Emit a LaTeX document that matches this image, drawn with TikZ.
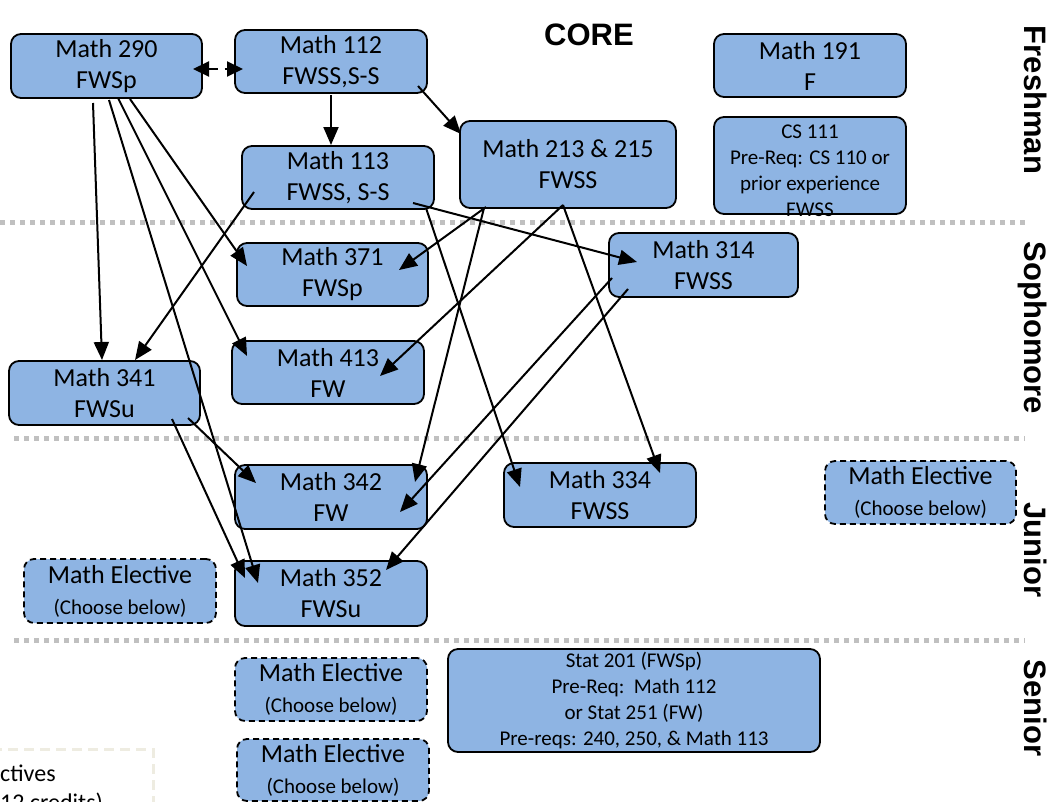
\documentclass[tikz,border=0pt]{standalone}
\usepackage{fontspec}
\setmainfont{Carlito}
\newfontfamily\headfont{Liberation Sans}
\usepackage{tikz}
\usetikzlibrary{arrows.meta,calc}
\definecolor{boxblue}{HTML}{8EB4E3}
\definecolor{sepgray}{HTML}{C0C0C0}
\definecolor{legendline}{HTML}{EEECE1}

\begin{document}
\begin{tikzpicture}[x=1pt, y=-1pt]
    % Estilos de los bloques
    \tikzset{
        course/.style={
            draw, line width=1.8pt, rounded corners=10pt, fill=boxblue, inner sep=0pt,
            minimum width=192, minimum height=64, align=center, font=\fontsize{26}{31}\selectfont
        },
        elective/.style={course, dash pattern=on 6pt off 4pt},
        sepline/.style={sepgray, line width=5pt, dash pattern=on 5pt off 5pt},
        yearlabel/.style={rotate=-90, anchor=base, font=\headfont\bfseries\fontsize{31}{36}\selectfont},
        req/.style={line width=2pt, -{Triangle[length=18pt,width=15pt]}}
    }
    \useasboundingbox (0,0) rectangle (1048,801);

    % Separadores entre cursos
    \draw[sepline] (0,222) -- (1025,222);
    \draw[sepline] (14,438) -- (1025,438);
    \draw[sepline] (14,640) -- (1025,640);

    \node[font=\headfont\bfseries\fontsize{31}{36}\selectfont] (core) at (589,35) {CORE};
    \node[yearlabel] (fresh) at (1024,100) {Freshman};
    \node[yearlabel] (soph) at (1024,328) {Sophomore};
    \node[yearlabel] (junior) at (1024,550) {Junior};
    \node[yearlabel] (senior) at (1024,708) {Senior};

    % Bloques principales
    \node[course, minimum width=191] (m290) at (106.5,66) {Math 290\\FWSp};
    \node[course, minimum height=63] (m112) at (331,61.5) {Math 112\\FWSS,S-S};
    \node[course, minimum height=63] (m191) at (810,65.5) {Math 191\\F};
    \node[course, minimum height=97] (cs111) at (810,165.5) {};
    \node[align=center, font=\fontsize{21}{26}\selectfont] (cs111txt) at (810,171)
        {CS 111\\Pre-Req: CS 110 or\\prior experience\\FWSS};
    \node[course, minimum height=63] (m113) at (338,177.5) {Math 113\\FWSS, S-S};
    \node[course, minimum width=216, minimum height=87] (m213) at (568,164.5) {Math 213 \& 215\\FWSS};
    \node[course, minimum width=191, minimum height=63] (m371) at (332.5,274.5) {Math 371\\FWSp};
    \node[course, minimum width=189] (m314) at (703.5,265) {Math 314\\FWSS};
    \node[course, minimum height=63] (m413) at (328,372.5) {Math 413\\FW};
    \node[course, minimum width=191] (m341) at (104.5,393) {Math 341\\FWSu};
    \node[course] (m342) at (331,497) {Math 342\\FW};
    \node[course] (m334) at (600,495) {Math 334\\FWSS};
    \node[course, minimum height=65] (m352) at (331,593.5) {Math 352\\FWSu};
    \node[elective, minimum width=191, minimum height=63] (elecA) at (920.5,492.5)
        {Math Elective\\{\fontsize{21}{25}\selectfont (Choose below)}};
    \node[elective] (elecB) at (120,591)
        {Math Elective\\{\fontsize{21}{25}\selectfont (Choose below)}};
    \node[elective, minimum height=63] (elecC) at (331,689.5)
        {Math Elective\\{\fontsize{21}{25}\selectfont (Choose below)}};
    \node[elective, minimum height=62] (elecD) at (333,770)
        {Math Elective\\{\fontsize{21}{25}\selectfont (Choose below)}};
    \node[course, minimum width=372, minimum height=103, font=\fontsize{21}{26}\selectfont] (stat201) at (634,700.5)
        {Stat 201 (FWSp)\\Pre-Req:\ \ Math 112\\or Stat 251 (FW)\\Pre-reqs: 240, 250, \& Math 113};

    % Recuadro de optativas (cortado por el borde)
    \node[draw=legendline, line width=3pt, dash pattern=on 10pt off 6pt, minimum width=320, minimum height=120,
        anchor=north east] (legend) at (155,748) {};
    \node[anchor=north west, align=left, inner sep=0pt, font=\fontsize{24}{29}\selectfont] (legendtxt) at (0,765)
        {ctives\\12 credits)};

    % Prerrequisitos
    \draw[line width=2pt, {Triangle[length=16pt,width=15pt]}-{Triangle[length=16pt,width=15pt]},
        dash pattern=on 9pt off 7pt]
        ($(m290)+(86.5,3)$) -- ($(m112)+(-88,7.5)$);
    \draw[req] ($(m112)+(0,33.5)$) -- ($(m113)+(-7,-32.5)$);
    \draw[req] ($(m112)+(87,24.5)$) -- ($(m213)+(-107,-30.5)$);
    \draw[req] ($(m290)+(-13.5,37)$) -- ($(m341)+(-2.5,-33)$);
    \draw[req] ($(m290)+(2.5,34)$) -- ($(m352)+(-73,-10.5)$);
    \draw[req] ($(m290)+(11.5,32)$) -- ($(m413)+(-81,-16.5)$);
    \draw[req] ($(m290)+(23.5,33)$) -- ($(m371)+(-85.5,-8.5)$);
    \draw[req] ($(m113)+(-84,14.5)$) -- ($(m341)+(30.5,-33)$);
    \draw[req] ($(m113)+(75,25.5)$) -- ($(m314)+(-66.5,-3)$);
    \draw[req] ($(m113)+(88,30.5)$) -- ($(m334)+(-80,-8)$);
    \draw[req] ($(m213)+(-82,42.5)$) -- ($(m371)+(66.5,-4.5)$);
    \draw[req] ($(m213)+(-84,43.5)$) -- ($(m342)+(84,-15)$);
    \draw[req] ($(m213)+(-5,40.5)$) -- ($(m413)+(52,3.5)$);
    \draw[req] ($(m213)+(-5,40.5)$) -- ($(m334)+(60,-22)$);
    \draw[req] ($(m314)+(-91.5,13)$) -- ($(m342)+(69,15)$);
    \draw[req] ($(m314)+(-75.5,24)$) -- ($(m352)+(55,-23.5)$);
    \draw[req] ($(m341)+(83.5,25)$) -- ($(m342)+(-75,-14)$);
    \draw[req] ($(m341)+(67.5,26)$) -- ($(m352)+(-86,-15.5)$);
\end{tikzpicture}
\end{document}
